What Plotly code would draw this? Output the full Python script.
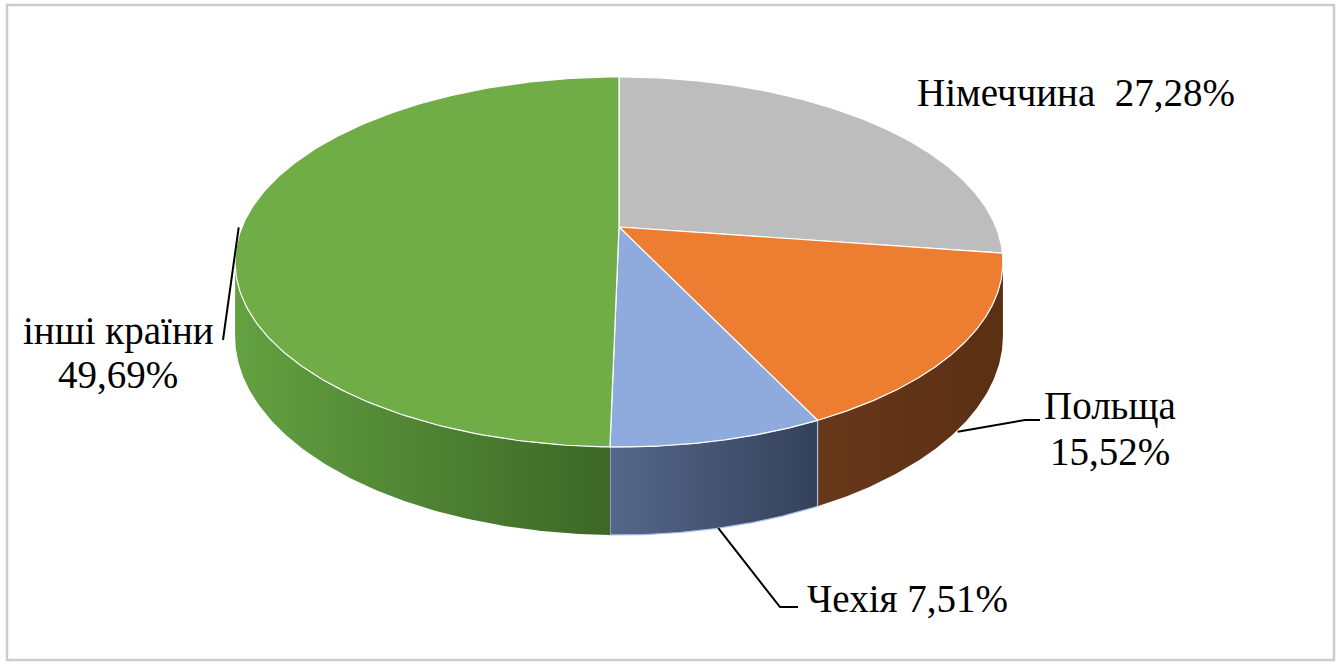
import numpy as np
import plotly.graph_objects as go

# ---------------- data ----------------
countries = ["Німеччина", "Польща", "Чехія", "інші країни"]
shares = [27.28, 15.52, 7.51, 49.69]

# ---------------- styles ----------------
top_colors = ["#BDBDBD", "#ED7D31", "#8FAADC", "#70AD47"]
side_gradients = [
    ["#8c8c8c", "#7a7a7a"],
    ["#68381a", "#5a2f12"],
    ["#56678a", "#34415a"],
    ["#63a141", "#3c6726"],
]
side_lines = ["rgba(0,0,0,0)", "rgba(0,0,0,0)", "#a9c0ea", "rgba(0,0,0,0)"]

W, H = 1343, 664
CX, CY = 619, 227        # projected pie centre (px)
A, B = 377, 178.4        # horizontal / depth radii
P = 0.189                # perspective strength
T = 71.4                 # thickness
FONT = "Times New Roman, Liberation Serif, Tinos, serif"
FS = 39


def pt(theta_deg, h):
    t = np.radians(theta_deg)
    X = np.sin(t)
    Z = -np.cos(t)
    w = 1 - P * Z
    return CX + A * X / w, CY + (B * Z + h) / w


total = sum(shares)
bounds = np.concatenate([[0], np.cumsum(shares)]) / total * 360.0
theta_r = np.degrees(np.arccos(-P))
theta_l = 360 - theta_r

fig = go.Figure()

# side walls (only the part facing the viewer)
for i in range(len(shares)):
    a0, a1 = max(bounds[i], theta_r), min(bounds[i + 1], theta_l)
    if a1 <= a0:
        continue
    th = np.linspace(a0, a1, 120)
    xt, yt = pt(th, 0)
    xb, yb = pt(th, T)
    xs = np.concatenate([xt, xb[::-1], xt[:1]])
    ys = np.concatenate([yt, yb[::-1], yt[:1]])
    fig.add_trace(go.Scatter(
        x=xs, y=ys, mode="lines", fill="toself",
        fillgradient=dict(type="horizontal",
                          colorscale=[[0, side_gradients[i][0]], [1, side_gradients[i][1]]],
                          start=float(xs.min()), stop=float(xs.max())),
        line=dict(color=side_lines[i], width=1.2),
        hoverinfo="skip", showlegend=False))

# top faces
for i in range(len(shares)):
    th = np.linspace(bounds[i], bounds[i + 1], 200)
    xa, ya = pt(th, 0)
    xs = np.concatenate([[CX], xa, [CX]])
    ys = np.concatenate([[CY], ya, [CY]])
    fig.add_trace(go.Scatter(
        x=xs, y=ys, mode="lines", fill="toself", fillcolor=top_colors[i],
        line=dict(color="white", width=1.2),
        hoverinfo="skip", showlegend=False))


def pct(v):
    return f"{v:.2f}".replace(".", ",") + "%"


mids = [(bounds[i] + bounds[i + 1]) / 2 for i in range(len(shares))]

annotations = []
shapes = []


def add_text(text, x, y, xanchor="center"):
    annotations.append(dict(text=text, x=x, y=y, xref="x", yref="y",
                            xanchor=xanchor, yanchor="middle", showarrow=False,
                            font=dict(family=FONT, size=FS, color="black")))


# Німеччина
add_text(f"{countries[0]}  {pct(shares[0])}", 915, 92, "left")

# Польща
add_text(countries[1], 1110, 406)
add_text(pct(shares[1]), 1110, 451)
sx, sy = pt(mids[1], T)
shapes.append(dict(type="path", xref="x", yref="y",
                   path=f"M{sx - 4},{sy + 6} L1025,420 L1040,420",
                   line=dict(color="black", width=2)))

# Чехія
add_text(f"{countries[2]} {pct(shares[2])}", 805, 598, "left")
sx, sy = pt(mids[2], T)
shapes.append(dict(type="path", xref="x", yref="y",
                   path=f"M{sx},{sy} L780,607 L798,607",
                   line=dict(color="black", width=2)))

# інші країни
add_text(countries[3], 118, 331)
add_text(pct(shares[3]), 118, 374)
sx, sy = pt(mids[3], 0)
shapes.append(dict(type="path", xref="x", yref="y",
                   path=f"M{sx - 4},{sy + 2} L223,340",
                   line=dict(color="black", width=2)))

# chart border
shapes.append(dict(type="rect", xref="x", yref="y", x0=7, y0=5, x1=1334, y1=660,
                   line=dict(color="#cccccc", width=2.5), layer="below"))

fig.update_layout(
    width=W, height=H,
    margin=dict(l=0, r=0, t=0, b=0),
    paper_bgcolor="white", plot_bgcolor="white",
    xaxis=dict(range=[0, W], visible=False, fixedrange=True),
    yaxis=dict(range=[H, 0], visible=False, fixedrange=True),
    annotations=annotations, shapes=shapes,
    showlegend=False,
)

fig.write_html("out.html",
               config={"displayModeBar": False, "staticPlot": True},
               post_script="document.body.style.margin='0';document.body.style.overflow='hidden';")
